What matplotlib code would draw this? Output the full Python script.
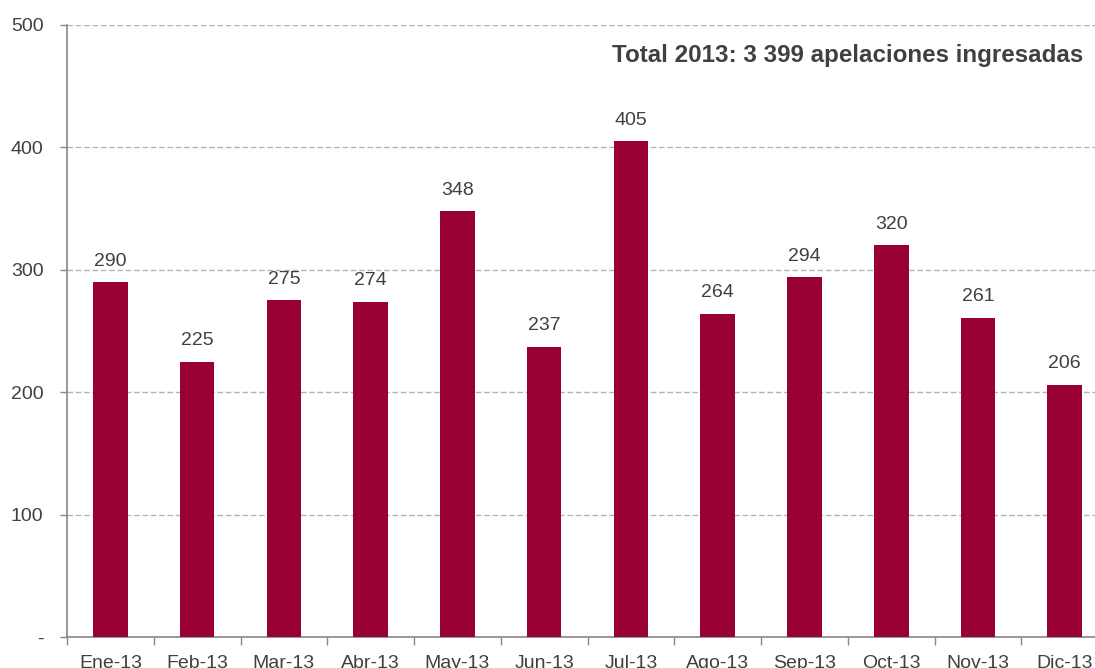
import matplotlib
matplotlib.use("Agg")
import matplotlib.pyplot as plt
import numpy as np

plt.rcParams['font.family'] = ['Liberation Sans', 'DejaVu Sans']

# data
meses = ['Ene-13', 'Feb-13', 'Mar-13', 'Abr-13', 'May-13', 'Jun-13',
         'Jul-13', 'Ago-13', 'Sep-13', 'Oct-13', 'Nov-13', 'Dic-13']
apelaciones = [290, 225, 275, 274, 348, 237, 405, 264, 294, 320, 261, 206]
yticks = [0, 100, 200, 300, 400, 500]
ylabels = ['-', '100', '200', '300', '400', '500']

txt = '#404040'
bar_col = '#990033'

fig = plt.figure(figsize=(10.95, 6.68), dpi=100)
ax = fig.add_axes([0.0612, 0.0464, 0.9507, 0.9162])

x = np.arange(len(meses))
ax.bar(x, apelaciones, width=0.40, color=bar_col, zorder=3)

for xi, v in zip(x, apelaciones):
    ax.annotate(str(v), (xi, v), xytext=(0, 9), textcoords='offset points',
                ha='center', va='bottom', fontsize=14, color=txt)

ax.set_xlim(-0.5, len(meses) - 0.5)
ax.set_ylim(0, 500)
ax.set_yticks(yticks)
ax.set_yticklabels(ylabels)
ax.yaxis.grid(True, linestyle=(0, (4, 2)), color='#b4b4b4', linewidth=1, zorder=0)

# category labels centered, tick marks on boundaries
ax.set_xticks(x)
ax.set_xticklabels(meses)
ax.set_xticks(np.arange(len(meses) + 1) - 0.5, minor=True)
ax.tick_params(axis='x', which='major', length=0, pad=13, labelsize=14, labelcolor=txt)
ax.tick_params(axis='x', which='minor', length=6, color='#888888', width=1)
ax.tick_params(axis='y', length=5, color='#888888', width=1, pad=12,
               labelsize=14, labelcolor=txt)

for s in ['top', 'right']:
    ax.spines[s].set_visible(False)
for s in ['left', 'bottom']:
    ax.spines[s].set_color('#888888')
    ax.spines[s].set_linewidth(1.2)

fig.text(0.989, 0.917, 'Total 2013: 3 399 apelaciones ingresadas', ha='right',
         va='center', fontsize=17.4, fontweight='bold', color=txt)

fig.savefig('out.png', dpi=100)
